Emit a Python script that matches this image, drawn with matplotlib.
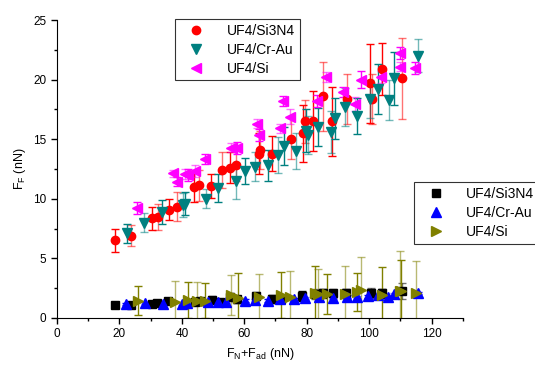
import numpy as np
import matplotlib
matplotlib.use("Agg")
import matplotlib.pyplot as plt
from matplotlib.ticker import MultipleLocator

plt.rcParams['font.family'] = ['Liberation Sans', 'DejaVu Sans']
plt.rcParams['mathtext.default'] = 'regular'

# top group: friction force
si3n4_x = [18.7, 23.6, 30.3, 32.4, 35.8, 38.3, 43.9, 45.4, 49.5, 52.9, 55.4, 57.5,
           64.7, 64.9, 68.9, 75.1, 78.8, 79.5, 82.0, 85.3, 88.2, 93.0, 100.4, 100.8, 104.2, 110.6]
si3n4_y = [6.5, 6.9, 8.35, 8.45, 9.1, 9.35, 11.0, 11.15, 11.1, 12.4, 12.6, 12.8,
           13.8, 14.1, 13.8, 15.05, 15.5, 16.5, 16.55, 18.6, 16.5, 18.4, 19.7, 18.4, 20.9, 20.1]
si3n4_e = [1.0, 0.9, 1.0, 1.1, 0.9, 1.2, 1.3, 1.3, 1.0, 1.5, 1.3, 1.3,
           1.7, 1.6, 1.5, 1.7, 2.4, 1.8, 2.5, 2.9, 2.9, 2.1, 3.3, 2.1, 2.2, 3.4]

crau_x = [22.3, 27.9, 33.7, 40.4, 41.0, 47.9, 51.6, 57.5, 60.2, 63.4, 67.6, 70.8, 72.7,
          76.5, 79.7, 80.4, 83.6, 87.9, 89.2, 92.4, 96.2, 100.2, 102.8, 106.3, 107.9, 115.5]
crau_y = [7.1, 8.0, 8.9, 9.5, 9.6, 10.0, 10.9, 11.5, 12.3, 12.7, 12.8, 13.7, 14.4,
          14.0, 15.7, 15.35, 16.05, 15.6, 16.75, 17.7, 16.95, 18.4, 19.2, 18.3, 20.1, 22.0]
crau_e = [0.8, 0.8, 1.0, 1.0, 1.0, 0.8, 1.2, 1.5, 1.1, 1.2, 1.3, 1.5, 1.6,
          1.5, 1.8, 1.6, 1.6, 1.75, 1.7, 1.6, 1.55, 1.6, 2.1, 1.7, 2.2, 1.4]

si_x = [25.7, 37.2, 38.3, 41.0, 42.0, 44.2, 47.4, 55.6, 57.8, 64.0, 64.7, 71.6, 72.3,
        74.6, 83.2, 86.3, 91.6, 95.5, 97.3, 103.7, 109.8, 109.8, 114.6]
si_y = [9.2, 12.15, 11.45, 12.1, 12.0, 12.3, 13.35, 14.3, 14.3, 16.3, 15.35, 15.9, 18.2,
        16.9, 18.2, 20.2, 18.95, 17.95, 20.0, 20.2, 22.2, 21.1, 21.0]
si_e = [0.5, 0.3, 0.4, 0.4, 0.5, 0.5, 0.4, 0.4, 0.5, 0.4, 0.5, 0.4, 0.4,
        0.6, 0.5, 0.4, 0.4, 0.6, 0.7, 0.5, 0.5, 0.4, 0.5]

# bottom group
b_si3n4_x = [18.7, 23.7, 30.3, 32.2, 35.6, 44.2, 45.8, 49.6, 52.2, 55.4, 57.6, 63.9,
             68.8, 71.9, 78.6, 82.6, 85.1, 88.3, 92.7, 100.6, 104.0, 110.6]
b_si3n4_y = [1.05, 1.05, 1.15, 1.25, 1.45, 1.35, 1.4, 1.5, 1.35, 1.75, 1.55, 1.85,
             1.6, 1.6, 1.85, 2.0, 2.05, 2.05, 2.05, 2.1, 2.05, 2.25]
b_si3n4_e = [0.25, 0.2, 0.25, 0.25, 0.2, 0.3, 0.3, 0.3, 0.25, 0.3, 0.3, 0.3,
             0.35, 0.35, 0.4, 0.4, 0.4, 0.35, 0.35, 0.45, 0.35, 0.7]

b_crau_x = [22.1, 28.2, 34.0, 39.9, 41.5, 48.4, 51.6, 54.3, 60.2, 63.4, 67.6, 71.5,
            75.9, 79.6, 83.9, 88.4, 93.0, 96.2, 99.6, 102.8, 106.0, 108.0, 115.6]
b_crau_y = [1.15, 1.23, 1.17, 1.2, 1.28, 1.31, 1.35, 1.37, 1.45, 1.5, 1.45, 1.57,
            1.55, 1.65, 1.79, 1.65, 1.79, 1.73, 1.8, 1.93, 1.73, 1.99, 2.07]
b_crau_e = [0.1] * len(b_crau_x)

b_si_x = [26.0, 37.8, 42.0, 44.7, 47.5, 55.9, 57.9, 64.6, 71.9, 74.6, 82.6, 83.6,
          86.5, 92.2, 96.1, 97.5, 104.2, 109.8, 110.2, 115.1]
b_si_y = [1.45, 1.3, 1.5, 1.45, 1.45, 1.93, 1.65, 1.75, 1.93, 1.75, 2.07, 2.0,
          2.0, 2.0, 2.15, 2.35, 1.9, 2.3, 2.3, 2.1]
b_si_e = [1.2, 1.8, 1.5, 1.55, 1.45, 1.7, 2.15, 1.95, 1.95, 2.2, 2.3, 2.1,
          1.7, 2.35, 1.6, 2.75, 2.35, 3.3, 2.6, 2.65]

fig = plt.figure(figsize=(5.35, 3.65), dpi=100)
ax = fig.add_axes([0.1065, 0.129, 0.7585, 0.816])


def draw(x, y, e, color, marker, ms, label):
    x = np.array(x); y = np.array(y); e = np.array(e)
    # Origin-like look: error bars in two shades
    for sl, a in ((slice(0, None, 2), 1.0), (slice(1, None, 2), 0.55)):
        ax.errorbar(x[sl], y[sl], yerr=e[sl], fmt='none', ecolor=color, alpha=a,
                    elinewidth=1.0, capsize=2.8, capthick=1.0, zorder=2)
    return ax.plot(x, y, linestyle='none', marker=marker, ms=ms, color=color,
                   mec=color, label=label, zorder=3)[0]


h1 = draw(si3n4_x, si3n4_y, si3n4_e, '#ff0000', 'o', 6, 'UF4/Si3N4')
h2 = draw(crau_x, crau_y, crau_e, '#008080', 'v', 6.5, 'UF4/Cr-Au')
h3 = draw(si_x, si_y, si_e, '#ff00ff', '<', 6.5, 'UF4/Si')
h4 = draw(b_si3n4_x, b_si3n4_y, b_si3n4_e, '#000000', 's', 5.5, 'UF4/Si3N4')
h5 = draw(b_crau_x, b_crau_y, b_crau_e, '#0000ff', '^', 6.5, 'UF4/Cr-Au')
h6 = draw(b_si_x, b_si_y, b_si_e, '#808000', '>', 6.5, 'UF4/Si')

ax.set_xlim(0, 130)
ax.set_ylim(0, 25)
ax.xaxis.set_major_locator(MultipleLocator(20))
ax.xaxis.set_minor_locator(MultipleLocator(10))
ax.yaxis.set_major_locator(MultipleLocator(5))
ax.yaxis.set_minor_locator(MultipleLocator(2.5))
ax.spines['top'].set_visible(False)
ax.spines['right'].set_visible(False)
ax.tick_params(which='major', direction='out', length=4, width=1, labelsize=8.5)
ax.tick_params(which='minor', direction='out', length=2.5, width=1)
ax.set_xlabel('F$_N$+F$_{ad}$ (nN)', fontsize=9)
ax.set_ylabel('F$_F$ (nN)', fontsize=9)

leg_kw = dict(loc='upper left', fontsize=10, frameon=True, fancybox=False,
              edgecolor='black', handletextpad=1.0, borderpad=0.35,
              labelspacing=0.35, handlelength=2.4, borderaxespad=0)
leg1 = fig.legend(handles=[h1, h2, h3], bbox_to_anchor=(0.327, 0.948), **leg_kw)
leg1.get_frame().set_linewidth(0.8)
leg2 = fig.legend(handles=[h4, h5, h6], bbox_to_anchor=(0.774, 0.501), **leg_kw)
leg2.get_frame().set_linewidth(0.8)

fig.savefig('out.png', dpi=100)
